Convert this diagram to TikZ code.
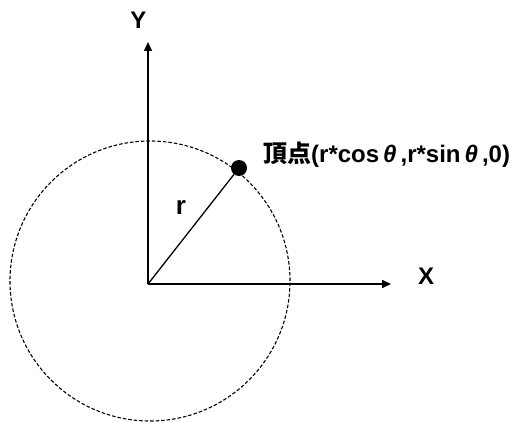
\documentclass[tikz,border=0pt]{standalone}
\usepackage{fontspec}
\usepackage{tikz}
\usepackage{xcolor}
\setmainfont{Liberation Sans}
\newfontfamily\cjk{Noto Sans CJK JP}
\usetikzlibrary{arrows.meta,positioning}
\tikzset{
  vtaxis/.style={-{Triangle[length=9pt, width=8pt]}, line width=1.6pt, draw=black},
  vtcirc/.style={draw=black, line width=1.1pt, dash pattern=on 3.5pt off 2pt},
  vtrad/.style={draw=black, line width=1.3pt},
  vtdot/.style={circle, fill=black, inner sep=0pt, minimum size=16pt},
  vtlab/.style={font=\fontsize{24}{28}\selectfont\bfseries, inner sep=0pt}
}

\begin{document}
\begin{tikzpicture}[x=1pt, y=1pt]
  \useasboundingbox (0,0) rectangle (513,421);
  \coordinate (O) at (148,137);
  \coordinate (C) at (150,140);
  \coordinate (xend) at (391,137);
  \coordinate (yend) at (148,379);
  \draw[vtcirc] (C) circle (140);
  \draw[vtaxis] (O) -- (xend);
  \draw[vtaxis] (O) -- (yend);
  \node[vtdot] (vertex) at (239,253) {};
  \draw[vtrad] (O) -- (vertex);
  \node[vtlab] (xlab) at (426,145) {X};
  \node[vtlab] (ylab) at (138.5,401) {Y};
  \node[vtlab, font=\fontsize{26}{30}\selectfont\bfseries] (rlab) at (181,214) {r};
  \node[vtlab, anchor=west] (vlab) at (263,266)
    {{\cjk\bfseries 頂点}(r*cos\,\textit{θ}\,,r*sin\,\textit{θ}\,,0)};
\end{tikzpicture}
\end{document}
